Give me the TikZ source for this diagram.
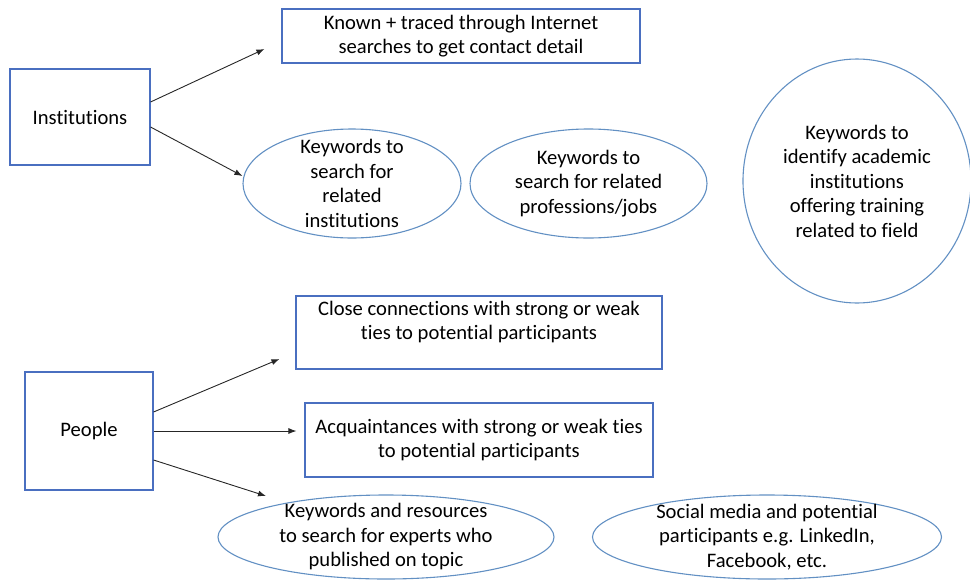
\documentclass[tikz,border=0pt]{standalone}
\usepackage{fontspec}
\setmainfont{Carlito}[Ligatures={NoCommon,TeX}]
\usetikzlibrary{shapes.geometric,arrows.meta}
\definecolor{rectc}{HTML}{4A6FC0}
\definecolor{ellc}{HTML}{6290C3}
\newcommand{\ctxt}[2]{\smash{\raisebox{-0.25em}{\parbox[c]{#1}{\centering #2}}}}
\begin{document}
\begin{tikzpicture}[x=1pt,y=-1pt,
  box/.style={draw=rectc, line width=1.1pt, rectangle, inner sep=2pt, align=center, font=\fontsize{20.6}{24.5}\selectfont},
  ell/.style={draw=ellc, line width=1.1pt, ellipse, inner sep=0pt, font=\fontsize{20.6}{24.5}\selectfont},
  arr/.style={-{Latex[length=8pt,width=6pt]}, line width=0.9pt, black!85}]
\useasboundingbox (0,0) rectangle (970,579);
% top group
\node[box, minimum width=140pt, minimum height=96pt] (inst) at (80,117) {Institutions};
\node[box, minimum width=358pt, minimum height=54pt] (known) at (461,36) {Known + traced through Internet\\searches to get contact detail};
\node[ell, minimum width=218pt, minimum height=109pt] (ell1) at (352,183.5) {\ctxt{140pt}{Keywords to\\search for\\related\\institutions}};
\node[ell, minimum width=237pt, minimum height=109pt] (ell2) at (588.5,183.5) {\ctxt{155pt}{Keywords to\\search for related\\professions/jobs}};
\node[ell, minimum width=228pt, minimum height=244pt] (circ) at (857,181) {\ctxt{158pt}{Keywords to\\identify academic\\institutions\\offering training\\related to field}};
% bottom group
\node[box, minimum width=128pt, minimum height=118pt] (people) at (89,431) {People};
\node[box, minimum width=366pt, minimum height=73pt] (close) at (479,332.5) {Close connections with strong or weak\\ties to potential participants\\\mbox{}};
\node[box, minimum width=348pt, minimum height=74pt] (acq) at (479,440) {Acquaintances with strong or weak ties\\to potential participants};
\node[ell, minimum width=336pt, minimum height=84pt] (ell3) at (386,537) {\ctxt{225pt}{Keywords and resources\\to search for experts who\\published on topic}};
\node[ell, minimum width=349pt, minimum height=84pt] (ell4) at (767,537) {\ctxt{230pt}{Social media and potential\\participants e.g. LinkedIn,\\Facebook, etc.}};
% connectors
\draw[arr] ([yshift=15pt]inst.east) -- ([xshift=-17pt,yshift=-13pt]known.west);
\draw[arr] ([yshift=-10pt]inst.east) -- ([yshift=7.5pt]ell1.west);
\draw[arr] ([yshift=19pt]people.east) -- ([xshift=-16pt,yshift=-26.5pt]close.west);
\draw[arr] (people.east) -- ([xshift=-8pt]people.east -| acq.west);
\draw[arr] ([yshift=-29pt]people.east) -- ([xshift=-120pt,yshift=41pt]ell3.center);
\end{tikzpicture}
\end{document}
